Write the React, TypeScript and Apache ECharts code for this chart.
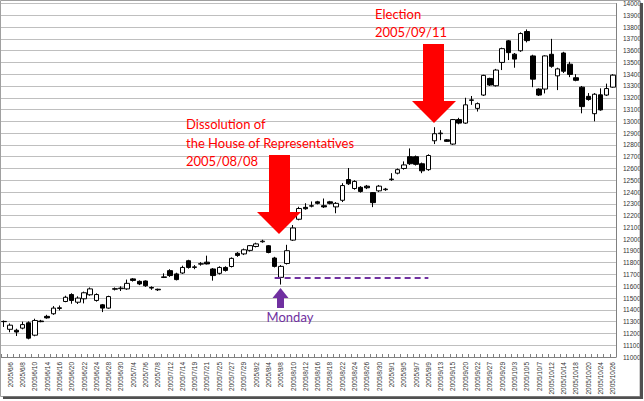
import React, { useEffect, useRef } from "react";
import * as echarts from "echarts";

const dates: string[] = [
  "2005/6/3","2005/6/6","2005/6/7","2005/6/8","2005/6/9","2005/6/10","2005/6/13","2005/6/14","2005/6/15","2005/6/16",
  "2005/6/17","2005/6/20","2005/6/21","2005/6/22","2005/6/23","2005/6/24","2005/6/27","2005/6/28","2005/6/29","2005/6/30",
  "2005/7/1","2005/7/4","2005/7/5","2005/7/6","2005/7/7","2005/7/8","2005/7/11","2005/7/12","2005/7/13","2005/7/14",
  "2005/7/15","2005/7/19","2005/7/20","2005/7/21","2005/7/22","2005/7/25","2005/7/26","2005/7/27","2005/7/28","2005/7/29",
  "2005/8/1","2005/8/2","2005/8/3","2005/8/4","2005/8/5","2005/8/8","2005/8/9","2005/8/10","2005/8/11","2005/8/12",
  "2005/8/15","2005/8/16","2005/8/17","2005/8/18","2005/8/19","2005/8/22","2005/8/23","2005/8/24","2005/8/25","2005/8/26",
  "2005/8/29","2005/8/30","2005/8/31","2005/9/1","2005/9/2","2005/9/5","2005/9/6","2005/9/7","2005/9/8","2005/9/9",
  "2005/9/12","2005/9/13","2005/9/14","2005/9/15","2005/9/16","2005/9/20","2005/9/21","2005/9/22","2005/9/26","2005/9/27",
  "2005/9/28","2005/9/29","2005/9/30","2005/10/3","2005/10/4","2005/10/5","2005/10/6","2005/10/7","2005/10/11","2005/10/12",
  "2005/10/13","2005/10/14","2005/10/17","2005/10/18","2005/10/19","2005/10/20","2005/10/21","2005/10/24","2005/10/25","2005/10/26",
];

const opens: number[] = [
  11300,11235,11227,11245,11290,11185,11305,11345,11367,11412,
  11471,11530,11465,11494,11528,11480,11443,11415,11575,11580,
  11578,11663,11642,11645,11590,11575,11675,11733,11705,11713,
  11817,11760,11788,11805,11747,11710,11760,11768,11880,11875,
  11905,11938,11978,11944,11840,11676,11794,11992,12169,12270,
  12280,12317,12284,12317,12274,12330,12506,12430,12440,12450,
  12395,12410,12420,12505,12560,12600,12700,12700,12640,12590,
  12835,12895,12843,12807,13015,12985,13178,13110,13223,13364,
  13302,13500,13683,13570,13599,13762,13555,13274,13274,13569,
  13386,13580,13485,13370,13290,13212,13065,13225,13223,13290,
];

const closes: number[] = [
  11302,11270,11212,11275,11160,11310,11300,11332,11415,11418,
  11507,11480,11500,11545,11578,11530,11415,11513,11580,11585,
  11625,11650,11620,11605,11585,11570,11680,11691,11657,11760,
  11760,11765,11792,11790,11691,11760,11735,11837,11862,11910,
  11945,11960,11983,11887,11769,11769,11902,12095,12260,12258,
  12284,12304,12274,12304,12304,12455,12470,12490,12405,12436,
  12310,12450,12425,12510,12590,12630,12640,12635,12580,12710,
  12895,12900,12830,13015,12985,13140,13182,13150,13390,13308,
  13435,13617,13583,13528,13745,13685,13358,13223,13555,13467,
  13445,13425,13398,13348,13125,13185,13230,13097,13278,13392,
];

const lows: number[] = [
  11255,11210,11178,11235,11150,11176,11295,11325,11358,11395,
  11465,11452,11450,11455,11520,11470,11381,11410,11565,11560,
  11570,11640,11610,11595,11570,11560,11670,11680,11650,11705,
  11750,11745,11775,11785,11648,11700,11725,11760,11850,11865,
  11895,11930,11970,11880,11760,11615,11785,11985,12160,12250,
  12270,12295,12265,12295,12220,12315,12460,12420,12395,12425,
  12272,12400,12410,12495,12550,12590,12630,12625,12560,12580,
  12807,12840,12825,12800,12975,12978,13140,13083,13215,13300,
  13295,13435,13520,13455,13590,13670,13290,13215,13237,13455,
  13265,13410,13375,13340,13068,13175,13000,13090,13215,13285,
];

const highs: number[] = [
  11310,11285,11240,11300,11302,11325,11315,11358,11432,11437,
  11520,11541,11515,11555,11590,11540,11450,11520,11590,11600,
  11657,11670,11650,11650,11600,11580,11710,11745,11715,11775,
  11825,11780,11805,11860,11755,11770,11770,11845,11890,11920,
  11950,11970,11995,11950,11850,11780,11952,12120,12275,12305,
  12320,12325,12345,12325,12315,12475,12604,12500,12450,12460,
  12400,12460,12435,12560,12600,12660,12770,12710,12650,12720,
  12950,12925,12850,13020,13030,13200,13215,13160,13395,13370,
  13445,13625,13690,13580,13755,13780,13565,13280,13560,13700,
  13455,13590,13505,13400,13300,13240,13240,13280,13320,13400,
];

const mondayLevel = 11670;
const dashStart = "2005/8/5";
const dashEnd = "2005/9/9";

const RED = "#FF0000";
const PURPLE = "#7030A0";
const TXT_FONT = "13px Lato";

export default function App() {
  const ref = useRef<HTMLDivElement>(null);
  useEffect(() => {
    if (!ref.current) return;
    const chart = echarts.init(ref.current, undefined, { renderer: "svg" });
    const candles = dates.map((_, i) => [opens[i], closes[i], lows[i], highs[i]]);
    chart.setOption({
      animation: false,
      backgroundColor: "#FFFFFF",
      grid: { left: 1, right: 28, top: 1.3, bottom: 44 },
      xAxis: {
        type: "category",
        data: dates,
        boundaryGap: true,
        axisLine: { show: true, lineStyle: { color: "#808080", width: 1 } },
        axisTick: { show: true, interval: 0, inside: true, length: 3, lineStyle: { color: "#808080" } },
        axisLabel: {
          interval: (idx: number) => idx % 2 === 1,
          rotate: 90,
          fontSize: 6.5,
          color: "#333333",
          margin: 5,
          fontFamily: "Liberation Sans",
        },
        splitLine: { show: false },
      },
      yAxis: {
        type: "value",
        position: "right",
        min: 11000,
        max: 14000,
        interval: 100,
        axisLine: { show: true, lineStyle: { color: "#808080" } },
        axisTick: { show: false },
        axisLabel: {
          fontSize: 6.5,
          color: "#333333",
          margin: 7,
          fontFamily: "Liberation Sans",
          formatter: (v: number) => String(v),
        },
        splitLine: { show: true, lineStyle: { color: "#BFBFBF", width: 1 } },
      },
      series: [
        {
          type: "candlestick",
          data: candles,
          barWidth: 5,
          itemStyle: {
            color: "#FFFFFF",
            color0: "#000000",
            borderColor: "#000000",
            borderColor0: "#000000",
            borderWidth: 1,
          },
          markLine: {
            silent: true,
            symbol: ["none", "none"],
            label: { show: false },
            lineStyle: { color: PURPLE, type: [6, 4], width: 2 },
            data: [[{ coord: [dashStart, mondayLevel] }, { coord: [dashEnd, mondayLevel] }]],
          },
        },
      ],
      graphic: [
        { type: "rect", shape: { x: 0.5, y: 0.5, width: 639.5, height: 396 }, style: { fill: "none", stroke: "#A0A0A0", lineWidth: 1 }, z: 100 },
        { type: "rect", shape: { x: 640, y: 3, width: 3, height: 396 }, style: { fill: "#505050" }, z: 100 },
        { type: "rect", shape: { x: 3, y: 396.5, width: 640, height: 2.5 }, style: { fill: "#505050" }, z: 100 },
        {
          type: "polygon",
          shape: { points: [[269, 155], [290, 155], [290, 212], [301, 212], [279, 234], [257, 212], [269, 212]] },
          style: { fill: RED },
          z: 100,
        },
        {
          type: "polygon",
          shape: { points: [[423, 44], [444, 44], [444, 101], [456, 101], [434, 123], [412, 101], [423, 101]] },
          style: { fill: RED },
          z: 100,
        },
        {
          type: "polygon",
          shape: { points: [[280.5, 288], [288.5, 298], [284, 298], [284, 308], [277, 308], [277, 298], [272.5, 298]] },
          style: { fill: PURPLE },
          z: 100,
        },
        { type: "text", x: 186, y: 124, style: { text: "Dissolution of", fill: RED, font: TXT_FONT, textVerticalAlign: "middle" }, z: 100 },
        { type: "text", x: 186, y: 143, style: { text: "the House of Representatives", fill: RED, font: TXT_FONT, textVerticalAlign: "middle" }, z: 100 },
        { type: "text", x: 186, y: 161, style: { text: "2005/08/08", fill: RED, font: TXT_FONT, textVerticalAlign: "middle" }, z: 100 },
        { type: "text", x: 375, y: 14, style: { text: "Election", fill: RED, font: TXT_FONT, textVerticalAlign: "middle" }, z: 100 },
        { type: "text", x: 375, y: 31.5, style: { text: "2005/09/11", fill: RED, font: TXT_FONT, textVerticalAlign: "middle" }, z: 100 },
        { type: "text", x: 290, y: 317, style: { text: "Monday", fill: PURPLE, font: TXT_FONT, textAlign: "center", textVerticalAlign: "middle" }, z: 100 },
      ],
    });
    return () => chart.dispose();
  }, []);
  return (
    <div
      ref={ref}
      style={{ position: "absolute", left: 0, top: 0, width: 644, height: 401, background: "#FFFFFF" }}
    />
  );
}
